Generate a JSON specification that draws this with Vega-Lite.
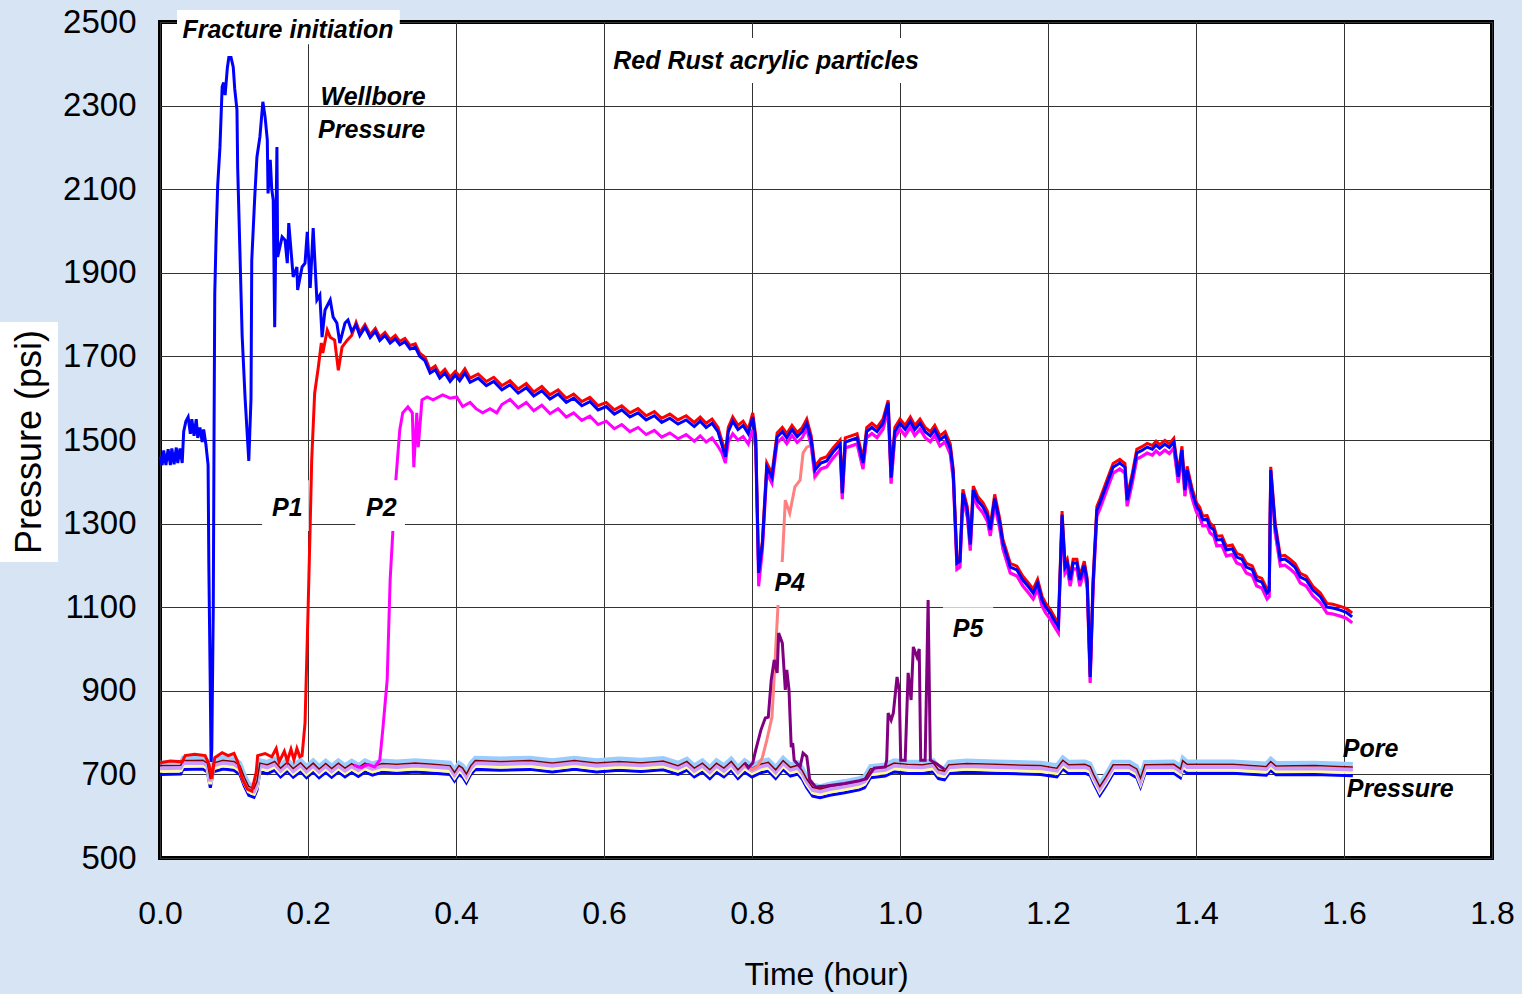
{
"$schema": "https://vega.github.io/schema/vega-lite/v6.json",
"width": 1332, "height": 836,
"autosize": {"type": "none"},
"padding": {"left": 160, "top": 22, "right": 30, "bottom": 136},
"background": "#d6e4f4",
"config": {"view": {"fill": "white", "stroke": "black", "strokeWidth": 4}, "font": "Liberation Sans", "axis": {"labelFont": "Liberation Sans", "titleFont": "Liberation Sans"}},
"datasets": {
"pore": [
{"t":0.000,"a":700,"b":709,"c":715,"d":721,"e":728},
{"t":0.028,"a":701,"b":710,"c":716,"d":722,"e":729},
{"t":0.031,"a":712,"b":721,"c":727,"d":733,"e":740},
{"t":0.058,"a":713,"b":722,"c":728,"d":734,"e":741},
{"t":0.064,"a":706,"b":715,"c":721,"d":727,"e":734},
{"t":0.068,"a":668,"b":677,"c":683,"d":689,"e":696},
{"t":0.072,"a":706,"b":715,"c":721,"d":727,"e":734},
{"t":0.085,"a":713,"b":722,"c":728,"d":734,"e":741},
{"t":0.100,"a":710,"b":719,"c":725,"d":731,"e":738},
{"t":0.108,"a":700,"b":709,"c":715,"d":721,"e":728},
{"t":0.114,"a":672,"b":681,"c":687,"d":693,"e":700},
{"t":0.120,"a":650,"b":659,"c":665,"d":671,"e":678},
{"t":0.127,"a":645,"b":654,"c":660,"d":666,"e":673},
{"t":0.131,"a":662,"b":671,"c":677,"d":683,"e":690},
{"t":0.135,"a":706,"b":715,"c":721,"d":727,"e":734},
{"t":0.145,"a":702,"b":711,"c":717,"d":723,"e":730},
{"t":0.155,"a":710,"b":719,"c":725,"d":731,"e":738},
{"t":0.163,"a":694,"b":703,"c":709,"d":715,"e":722},
{"t":0.172,"a":708,"b":717,"c":723,"d":729,"e":736},
{"t":0.180,"a":693,"b":702,"c":708,"d":714,"e":721},
{"t":0.190,"a":707,"b":716,"c":722,"d":728,"e":735},
{"t":0.198,"a":692,"b":701,"c":707,"d":713,"e":720},
{"t":0.207,"a":706,"b":715,"c":721,"d":727,"e":734},
{"t":0.215,"a":692,"b":701,"c":707,"d":713,"e":720},
{"t":0.224,"a":705,"b":714,"c":720,"d":726,"e":733},
{"t":0.232,"a":693,"b":702,"c":708,"d":714,"e":721},
{"t":0.241,"a":706,"b":715,"c":721,"d":727,"e":734},
{"t":0.250,"a":694,"b":703,"c":709,"d":715,"e":722},
{"t":0.259,"a":705,"b":714,"c":720,"d":726,"e":733},
{"t":0.268,"a":695,"b":704,"c":710,"d":716,"e":723},
{"t":0.277,"a":706,"b":715,"c":721,"d":727,"e":734},
{"t":0.287,"a":698,"b":707,"c":713,"d":719,"e":726},
{"t":0.300,"a":705,"b":714,"c":720,"d":726,"e":733},
{"t":0.320,"a":703,"b":712,"c":718,"d":724,"e":731},
{"t":0.345,"a":706,"b":715,"c":721,"d":727,"e":734},
{"t":0.370,"a":703,"b":712,"c":718,"d":724,"e":731},
{"t":0.392,"a":700,"b":709,"c":715,"d":721,"e":728},
{"t":0.398,"a":684,"b":693,"c":699,"d":705,"e":712},
{"t":0.404,"a":700,"b":709,"c":715,"d":721,"e":728},
{"t":0.409,"a":694,"b":703,"c":709,"d":715,"e":722},
{"t":0.414,"a":680,"b":689,"c":695,"d":701,"e":708},
{"t":0.420,"a":700,"b":709,"c":715,"d":721,"e":728},
{"t":0.426,"a":712,"b":721,"c":727,"d":733,"e":740},
{"t":0.460,"a":710,"b":719,"c":725,"d":731,"e":738},
{"t":0.500,"a":712,"b":721,"c":727,"d":733,"e":740},
{"t":0.530,"a":706,"b":715,"c":721,"d":727,"e":734},
{"t":0.560,"a":712,"b":721,"c":727,"d":733,"e":740},
{"t":0.590,"a":706,"b":715,"c":721,"d":727,"e":734},
{"t":0.620,"a":710,"b":719,"c":725,"d":731,"e":738},
{"t":0.650,"a":707,"b":716,"c":722,"d":728,"e":735},
{"t":0.680,"a":711,"b":720,"c":726,"d":732,"e":739},
{"t":0.700,"a":700,"b":709,"c":715,"d":721,"e":728},
{"t":0.712,"a":710,"b":719,"c":725,"d":731,"e":738},
{"t":0.722,"a":694,"b":703,"c":709,"d":715,"e":722},
{"t":0.733,"a":706,"b":715,"c":721,"d":727,"e":734},
{"t":0.743,"a":690,"b":699,"c":705,"d":711,"e":718},
{"t":0.752,"a":706,"b":715,"c":721,"d":727,"e":734},
{"t":0.762,"a":694,"b":703,"c":709,"d":715,"e":722},
{"t":0.772,"a":710,"b":719,"c":725,"d":731,"e":738},
{"t":0.781,"a":690,"b":699,"c":705,"d":711,"e":718},
{"t":0.790,"a":706,"b":715,"c":721,"d":727,"e":734},
{"t":0.800,"a":694,"b":703,"c":709,"d":715,"e":722},
{"t":0.812,"a":704,"b":713,"c":719,"d":725,"e":732},
{"t":0.822,"a":708,"b":717,"c":723,"d":729,"e":736},
{"t":0.832,"a":690,"b":699,"c":705,"d":711,"e":718},
{"t":0.842,"a":712,"b":721,"c":727,"d":733,"e":740},
{"t":0.852,"a":696,"b":705,"c":711,"d":717,"e":724},
{"t":0.862,"a":701,"b":710,"c":716,"d":722,"e":729},
{"t":0.868,"a":688,"b":697,"c":703,"d":709,"e":716},
{"t":0.874,"a":668,"b":677,"c":683,"d":689,"e":696},
{"t":0.882,"a":648,"b":657,"c":663,"d":669,"e":676},
{"t":0.892,"a":644,"b":653,"c":659,"d":665,"e":672},
{"t":0.905,"a":650,"b":659,"c":665,"d":671,"e":678},
{"t":0.925,"a":656,"b":665,"c":671,"d":677,"e":684},
{"t":0.945,"a":663,"b":672,"c":678,"d":684,"e":691},
{"t":0.952,"a":668,"b":677,"c":683,"d":689,"e":696},
{"t":0.960,"a":692,"b":701,"c":707,"d":713,"e":720},
{"t":0.980,"a":696,"b":705,"c":711,"d":717,"e":724},
{"t":0.992,"a":706,"b":715,"c":721,"d":727,"e":734},
{"t":1.010,"a":703,"b":712,"c":718,"d":724,"e":731},
{"t":1.030,"a":702,"b":711,"c":717,"d":723,"e":730},
{"t":1.045,"a":706,"b":715,"c":721,"d":727,"e":734},
{"t":1.052,"a":690,"b":699,"c":705,"d":711,"e":718},
{"t":1.060,"a":687,"b":696,"c":702,"d":708,"e":715},
{"t":1.066,"a":702,"b":711,"c":717,"d":723,"e":730},
{"t":1.090,"a":705,"b":714,"c":720,"d":726,"e":733},
{"t":1.130,"a":703,"b":712,"c":718,"d":724,"e":731},
{"t":1.190,"a":700,"b":709,"c":715,"d":721,"e":728},
{"t":1.212,"a":694,"b":703,"c":709,"d":715,"e":722},
{"t":1.220,"a":713,"b":722,"c":728,"d":734,"e":741},
{"t":1.228,"a":702,"b":711,"c":717,"d":723,"e":730},
{"t":1.250,"a":703,"b":712,"c":718,"d":724,"e":731},
{"t":1.257,"a":698,"b":707,"c":713,"d":719,"e":726},
{"t":1.262,"a":678,"b":687,"c":693,"d":699,"e":706},
{"t":1.270,"a":650,"b":659,"c":665,"d":671,"e":678},
{"t":1.278,"a":672,"b":681,"c":687,"d":693,"e":700},
{"t":1.288,"a":702,"b":711,"c":717,"d":723,"e":730},
{"t":1.310,"a":702,"b":711,"c":717,"d":723,"e":730},
{"t":1.320,"a":692,"b":701,"c":707,"d":713,"e":720},
{"t":1.325,"a":670,"b":679,"c":685,"d":691,"e":698},
{"t":1.331,"a":702,"b":711,"c":717,"d":723,"e":730},
{"t":1.370,"a":703,"b":712,"c":718,"d":724,"e":731},
{"t":1.379,"a":692,"b":701,"c":707,"d":713,"e":720},
{"t":1.382,"a":712,"b":721,"c":727,"d":733,"e":740},
{"t":1.388,"a":703,"b":712,"c":718,"d":724,"e":731},
{"t":1.450,"a":703,"b":712,"c":718,"d":724,"e":731},
{"t":1.495,"a":698,"b":707,"c":713,"d":719,"e":726},
{"t":1.501,"a":710,"b":719,"c":725,"d":731,"e":738},
{"t":1.508,"a":699,"b":708,"c":714,"d":720,"e":727},
{"t":1.560,"a":700,"b":709,"c":715,"d":721,"e":728},
{"t":1.612,"a":697,"b":706,"c":712,"d":718,"e":725}
],
"main": [
{"t":0,"w":1460,"r":728},{"t":0.003,"w":1440},{"t":0.005,"w":1475},{"t":0.008,"w":1440},{"t":0.011,"w":1478},
{"t":0.014,"w":1440,"r":732},{"t":0.016,"w":1480},{"t":0.019,"w":1442},{"t":0.022,"w":1482},{"t":0.024,"w":1445},
{"t":0.027,"w":1480},{"t":0.030,"w":1445,"r":730},{"t":0.032,"w":1520},{"t":0.034,"r":745},{"t":0.035,"w":1545},
{"t":0.038,"w":1555},{"t":0.041,"w":1515},{"t":0.043,"w":1550},{"t":0.046,"w":1510},{"t":0.047,"r":748},
{"t":0.049,"w":1550},{"t":0.051,"w":1505},{"t":0.054,"w":1530},{"t":0.057,"w":1495},{"t":0.059,"w":1525},
{"t":0.061,"r":745},{"t":0.062,"w":1490},{"t":0.065,"w":1440},{"t":0.066,"w":1200,"r":725},{"t":0.068,"w":900},
{"t":0.069,"w":730},{"t":0.070,"w":760,"r":690},{"t":0.072,"w":1100},{"t":0.073,"w":1500},{"t":0.074,"w":1850,"r":740},
{"t":0.076,"w":2000},{"t":0.078,"w":2110},{"t":0.081,"w":2200},{"t":0.084,"w":2345,"r":752},{"t":0.086,"w":2355},
{"t":0.088,"w":2325},{"t":0.091,"w":2390},{"t":0.092,"r":745},{"t":0.093,"w":2415},{"t":0.096,"w":2415},
{"t":0.099,"w":2392},{"t":0.100,"r":750},{"t":0.101,"w":2340},{"t":0.104,"w":2290},{"t":0.105,"w":2150,"r":730},
{"t":0.108,"w":1950},{"t":0.111,"w":1750,"r":690},{"t":0.115,"w":1600},{"t":0.118,"r":665},{"t":0.120,"w":1450},
{"t":0.123,"w":1600},{"t":0.124,"w":1930,"r":660},{"t":0.128,"w":2080},{"t":0.130,"r":705},{"t":0.131,"w":2177},
{"t":0.132,"r":745},{"t":0.135,"w":2225},{"t":0.139,"w":2309},{"t":0.142,"w":2273,"r":750},{"t":0.145,"w":2218},
{"t":0.146,"w":2090},{"t":0.149,"w":2170},{"t":0.151,"w":2100,"r":742},{"t":0.153,"w":2074},{"t":0.155,"w":1770},
{"t":0.157,"r":762},{"t":0.158,"w":2201},{"t":0.159,"w":1938},{"t":0.161,"r":730},{"t":0.165,"w":1986},
{"t":0.168,"r":755},{"t":0.169,"w":1978},{"t":0.172,"w":1923,"r":732},{"t":0.174,"w":2019},{"t":0.177,"r":760},
{"t":0.180,"w":1890},{"t":0.181,"r":735},{"t":0.185,"w":1914,"r":762},{"t":0.186,"w":1859},{"t":0.189,"r":742},
{"t":0.192,"w":1914,"r":745},{"t":0.196,"w":1923,"r":823},{"t":0.199,"w":1998},{"t":0.200,"r":1086},{"t":0.203,"w":1864,"r":1300},
{"t":0.205,"r":1452},{"t":0.207,"w":2007},{"t":0.209,"r":1612},{"t":0.212,"w":1835},{"t":0.214,"r":1675},
{"t":0.216,"w":1847},{"t":0.218,"r":1732},{"t":0.219,"w":1746},{"t":0.220,"r":1708},{"t":0.223,"w":1811},
{"t":0.226,"r":1763},{"t":0.230,"w":1835,"r":1746},{"t":0.234,"w":1794},{"t":0.236,"r":1739},{"t":0.239,"w":1780},
{"t":0.241,"r":1667},{"t":0.243,"w":1732},{"t":0.246,"r":1722},{"t":0.250,"w":1780},{"t":0.253,"r":1739},
{"t":0.254,"w":1787},{"t":0.259,"w":1760,"r":1750},{"t":0.262,"m":722},{"t":0.265,"w":1775,"r":1781},{"t":0.270,"w":1750,"r":1757},
{"t":0.272,"m":716},{"t":0.277,"w":1770,"r":1776},{"t":0.281,"m":724},{"t":0.284,"w":1745,"r":1752},{"t":0.290,"m":718},
{"t":0.291,"w":1760,"r":1767},{"t":0.297,"w":1738,"r":1746,"m":734},{"t":0.301,"m":806},{"t":0.304,"w":1750,"r":1757},
{"t":0.307,"m":926},{"t":0.311,"w":1732,"r":1740,"m":1165},{"t":0.318,"w":1742,"r":1750,"m":1388},{"t":0.324,"w":1728,"r":1736,"m":1524},
{"t":0.328,"m":1565},{"t":0.331,"w":1735,"r":1743},{"t":0.335,"m":1579},{"t":0.338,"w":1718,"r":1726},{"t":0.341,"m":1565},
{"t":0.343,"m":1435},{"t":0.345,"w":1722,"r":1730},{"t":0.347,"m":1565},{"t":0.349,"m":1483},{"t":0.351,"w":1700,"r":1708},
{"t":0.354,"m":1596},{"t":0.358,"w":1690,"r":1698},{"t":0.361,"m":1603},{"t":0.365,"w":1660,"r":1668},{"t":0.369,"m":1596},
{"t":0.372,"w":1668,"r":1677},{"t":0.378,"w":1648,"r":1657},{"t":0.382,"m":1608},{"t":0.385,"w":1660,"r":1669},
{"t":0.392,"w":1640,"r":1650,"m":1600},{"t":0.399,"w":1655,"r":1664},{"t":0.401,"m":1603},{"t":0.405,"w":1642,"r":1652},
{"t":0.409,"m":1580},{"t":0.412,"w":1660,"r":1670},{"t":0.419,"w":1638,"r":1648,"m":1590},{"t":0.427,"m":1575},
{"t":0.430,"w":1648,"r":1658},{"t":0.436,"m":1565},{"t":0.441,"w":1630,"r":1640},{"t":0.446,"m":1575},{"t":0.451,"w":1640,"r":1650},
{"t":0.455,"m":1565},
{"t":0.462,"w":1620,"r":1630,"m":1585},{"t":0.473,"w":1632,"r":1642,"m":1597},{"t":0.484,"w":1612,"r":1622,"m":1577},
{"t":0.495,"w":1625,"r":1635,"m":1590},{"t":0.505,"w":1605,"r":1615,"m":1570},{"t":0.516,"w":1618,"r":1628,"m":1583},
{"t":0.527,"w":1598,"r":1608,"m":1563},{"t":0.538,"w":1610,"r":1620,"m":1575},{"t":0.549,"w":1590,"r":1600,"m":1555},
{"t":0.559,"w":1600,"r":1610,"m":1565},{"t":0.570,"w":1582,"r":1592,"m":1547},{"t":0.581,"w":1592,"r":1602,"m":1557},
{"t":0.592,"w":1572,"r":1582,"m":1537},{"t":0.603,"w":1580,"r":1590,"m":1545},{"t":0.614,"w":1562,"r":1572,"m":1527},
{"t":0.624,"w":1572,"r":1582,"m":1537},{"t":0.635,"w":1555,"r":1565,"m":1520},{"t":0.646,"w":1565,"r":1575,"m":1530},
{"t":0.657,"w":1548,"r":1558,"m":1513},{"t":0.668,"w":1558,"r":1568,"m":1523},{"t":0.678,"w":1542,"r":1552,"m":1507},
{"t":0.689,"w":1552,"r":1562,"m":1517},{"t":0.700,"w":1538,"r":1548,"m":1503},{"t":0.711,"w":1548,"r":1558,"m":1513},
{"t":0.722,"w":1532,"r":1542,"m":1497},{"t":0.730,"w":1545,"r":1555,"m":1510},{"t":0.738,"w":1530,"r":1540,"m":1495},
{"t":0.746,"w":1540,"r":1550,"m":1505},{"t":0.754,"w":1520,"r":1530,"m":1485},{"t":0.759,"w":1490,"r":1500,"m":1470},
{"t":0.764,"w":1460,"r":1470,"m":1445},{"t":0.768,"w":1520,"r":1530,"m":1495},{"t":0.774,"w":1545,"r":1555,"m":1515},
{"t":0.781,"w":1525,"r":1535,"m":1500},{"t":0.788,"w":1535,"r":1545,"m":1508},{"t":0.790,"s":722},
{"t":0.795,"w":1515,"r":1525,"m":1490},{"t":0.800,"s":712},{"t":0.801,"w":1555,"r":1565,"m":1525},
{"t":0.805,"w":1500,"r":1510,"m":1480},{"t":0.807,"s":718},{"t":0.809,"w":1182,"r":1190,"m":1150},
{"t":0.814,"w":1250,"r":1258,"m":1235,"s":740},{"t":0.820,"w":1435,"r":1445,"m":1421,"s":782},
{"t":0.827,"w":1410,"r":1420,"m":1396,"s":837},{"t":0.831,"s":966},{"t":0.834,"w":1507,"r":1517,"m":1493},
{"t":0.835,"s":1100},{"t":0.838,"s":1160},{"t":0.841,"w":1520,"r":1530,"m":1506,"s":1213},{"t":0.845,"s":1356},
{"t":0.847,"w":1505,"r":1515,"m":1491},{"t":0.851,"s":1325},{"t":0.854,"w":1525,"r":1535,"m":1511},{"t":0.858,"s":1388},
{"t":0.861,"w":1508,"r":1518,"m":1494},{"t":0.865,"s":1404},{"t":0.868,"w":1520,"r":1530,"m":1506},{"t":0.869,"s":1469},
{"t":0.874,"w":1540,"r":1550,"m":1526,"s":1483},{"t":0.880,"w":1500,"r":1510,"m":1486,"s":1487},
{"t":0.885,"w":1428,"r":1438,"m":1414,"s":1410},
{"t":0.893,"w":1445,"r":1455,"m":1431,"s":1430},{"t":0.901,"w":1450,"r":1460,"m":1436,"s":1435},
{"t":0.909,"w":1470,"r":1480,"m":1456,"s":1455},{"t":0.919,"w":1490,"r":1500,"m":1476,"s":1475},
{"t":0.922,"w":1373,"r":1383,"m":1359,"s":1358},{"t":0.926,"w":1495,"r":1505,"m":1481,"s":1480},
{"t":0.934,"w":1500,"r":1510,"m":1486,"s":1485},{"t":0.942,"w":1505,"r":1515,"m":1491,"s":1490},
{"t":0.950,"w":1445,"r":1455,"m":1431,"s":1430},{"t":0.955,"w":1520,"r":1530,"m":1506,"s":1505},
{"t":0.962,"w":1530,"r":1540,"m":1516,"s":1515},{"t":0.969,"w":1520,"r":1530,"m":1506,"s":1505},
{"t":0.977,"w":1540,"r":1550,"m":1526,"s":1525},{"t":0.984,"w":1589,"r":1595,"m":1575,"s":1570},
{"t":0.988,"w":1410,"r":1420,"m":1396,"s":1395},{"t":0.993,"w":1520,"r":1530,"m":1506,"s":1505},
{"t":1.000,"w":1540,"r":1550,"m":1526,"s":1525},{"t":1.007,"w":1525,"r":1535,"m":1511,"s":1510},
{"t":1.014,"w":1545,"r":1555,"m":1531,"s":1530},{"t":1.020,"w":1525,"r":1535,"m":1511,"s":1510},
{"t":1.027,"w":1540,"r":1550,"m":1526,"s":1525},{"t":1.034,"w":1520,"r":1530,"m":1506,"s":1505},
{"t":1.041,"w":1510,"r":1520,"m":1496,"s":1495},{"t":1.047,"w":1525,"r":1535,"m":1511,"s":1510},
{"t":1.054,"w":1500,"r":1510,"m":1486,"s":1485},{"t":1.061,"w":1510,"r":1520,"m":1496,"s":1495},
{"t":1.068,"w":1480,"r":1490,"m":1466,"s":1465},{"t":1.072,"w":1420,"r":1430,"m":1406,"s":1405},
{"t":1.077,"w":1205,"r":1212,"m":1191,"s":1190},{"t":1.081,"w":1210,"r":1218,"m":1196,"s":1195},
{"t":1.085,"w":1373,"r":1382,"m":1359,"s":1358},{"t":1.091,"w":1330,"r":1340,"m":1316,"s":1315},
{"t":1.095,"w":1250,"r":1258,"m":1236,"s":1235},{"t":1.099,"w":1380,"r":1390,"m":1366,"s":1365},
{"t":1.105,"w":1355,"r":1365,"m":1341,"s":1340},{"t":1.112,"w":1340,"r":1350,"m":1326,"s":1325},
{"t":1.118,"w":1320,"r":1330,"m":1306,"s":1305},{"t":1.122,"w":1285,"r":1294,"m":1271,"s":1270},
{"t":1.128,"w":1360,"r":1370,"m":1346,"s":1345},{"t":1.135,"w":1300,"r":1310,"m":1286,"s":1285},
{"t":1.139,"w":1254,"r":1263,"m":1240,"s":1239},{"t":1.149,"w":1196,"r":1205,"m":1182,"s":1181},
{"t":1.158,"w":1189,"r":1198,"m":1175,"s":1174},{"t":1.166,"w":1165,"r":1174,"m":1151,"s":1150},
{"t":1.173,"w":1150,"r":1159,"m":1136,"s":1135},{"t":1.180,"w":1134,"r":1143,"m":1120,"s":1119},
{"t":1.186,"w":1158,"r":1167,"m":1144,"s":1143},{"t":1.192,"w":1117,"r":1126,"m":1103,"s":1102},
{"t":1.197,"w":1100,"r":1109,"m":1086,"s":1085},{"t":1.203,"w":1086,"r":1095,"m":1072,"s":1071},
{"t":1.208,"w":1070,"r":1079,"m":1056,"s":1055},{"t":1.214,"w":1053,"r":1062,"m":1039,"s":1038},
{"t":1.219,"w":1321,"r":1330,"m":1307,"s":1306},{"t":1.223,"w":1196,"r":1205,"m":1182,"s":1181},
{"t":1.226,"w":1206,"r":1215,"m":1192,"s":1191},{"t":1.230,"w":1165,"r":1174,"m":1151,"s":1150},
{"t":1.234,"w":1206,"r":1215,"m":1192,"s":1191},{"t":1.239,"w":1206,"r":1215,"m":1192,"s":1191},
{"t":1.243,"w":1165,"r":1174,"m":1151,"s":1150},{"t":1.249,"w":1201,"r":1210,"m":1187,"s":1186},
{"t":1.253,"w":1160,"r":1169,"m":1146,"s":1145},{"t":1.257,"w":933,"r":940,"m":919,"s":920},
{"t":1.261,"w":1160,"r":1169,"m":1146,"s":1145},{"t":1.266,"w":1332,"r":1341,"m":1318,"s":1317},
{"t":1.270,"w":1349,"r":1358,"m":1335,"s":1334},{"t":1.280,"w":1397,"r":1406,"m":1383,"s":1382},
{"t":1.288,"w":1435,"r":1444,"m":1421,"s":1420},{"t":1.297,"w":1445,"r":1454,"m":1431,"s":1430},
{"t":1.304,"w":1435,"r":1444,"m":1421,"s":1420},{"t":1.307,"w":1356,"r":1365,"m":1342,"s":1341},
{"t":1.314,"w":1412,"r":1421,"m":1398,"s":1397},{"t":1.320,"w":1469,"r":1478,"m":1455,"s":1454},
{"t":1.327,"w":1475,"r":1484,"m":1461,"s":1460},{"t":1.334,"w":1483,"r":1492,"m":1469,"s":1468},
{"t":1.341,"w":1478,"r":1487,"m":1464,"s":1463},{"t":1.346,"w":1488,"r":1497,"m":1474,"s":1473},
{"t":1.351,"w":1480,"r":1489,"m":1466,"s":1465},{"t":1.358,"w":1490,"r":1499,"m":1476,"s":1475},
{"t":1.364,"w":1482,"r":1491,"m":1468,"s":1467},{"t":1.370,"w":1495,"r":1504,"m":1481,"s":1480},
{"t":1.376,"w":1412,"r":1421,"m":1398,"s":1397},{"t":1.381,"w":1476,"r":1485,"m":1462,"s":1461},
{"t":1.385,"w":1380,"r":1389,"m":1366,"s":1365},{"t":1.388,"w":1428,"r":1437,"m":1414,"s":1413},
{"t":1.395,"w":1373,"r":1382,"m":1359,"s":1358},{"t":1.401,"w":1340,"r":1349,"m":1326,"s":1325},
{"t":1.405,"w":1330,"r":1339,"m":1316,"s":1315},{"t":1.409,"w":1309,"r":1318,"m":1295,"s":1294},
{"t":1.415,"w":1310,"r":1319,"m":1296,"s":1295},{"t":1.419,"w":1292,"r":1301,"m":1278,"s":1277},
{"t":1.424,"w":1285,"r":1294,"m":1271,"s":1270},{"t":1.428,"w":1261,"r":1270,"m":1247,"s":1246},
{"t":1.435,"w":1262,"r":1271,"m":1248,"s":1247},{"t":1.441,"w":1237,"r":1246,"m":1223,"s":1222},
{"t":1.449,"w":1240,"r":1249,"m":1226,"s":1225},{"t":1.455,"w":1220,"r":1229,"m":1206,"s":1205},
{"t":1.462,"w":1215,"r":1224,"m":1201,"s":1200},{"t":1.468,"w":1196,"r":1205,"m":1182,"s":1181},
{"t":1.476,"w":1190,"r":1199,"m":1176,"s":1175},{"t":1.482,"w":1165,"r":1174,"m":1151,"s":1150},
{"t":1.489,"w":1160,"r":1169,"m":1146,"s":1145},{"t":1.496,"w":1134,"r":1143,"m":1120,"s":1119},
{"t":1.499,"w":1140,"r":1149,"m":1126,"s":1125},{"t":1.501,"w":1428,"r":1436,"m":1414,"s":1413},
{"t":1.507,"w":1292,"r":1301,"m":1278,"s":1277},{"t":1.514,"w":1213,"r":1222,"m":1199,"s":1198},
{"t":1.520,"w":1215,"r":1224,"m":1201,"s":1200},{"t":1.527,"w":1206,"r":1215,"m":1192,"s":1191},
{"t":1.534,"w":1195,"r":1204,"m":1181,"s":1180},{"t":1.541,"w":1172,"r":1181,"m":1158,"s":1157},
{"t":1.549,"w":1165,"r":1174,"m":1151,"s":1150},{"t":1.558,"w":1141,"r":1150,"m":1127,"s":1126},
{"t":1.568,"w":1125,"r":1134,"m":1111,"s":1110},{"t":1.577,"w":1100,"r":1109,"m":1086,"s":1085},
{"t":1.585,"w":1098,"r":1107,"m":1084,"s":1083},{"t":1.595,"w":1093,"r":1102,"m":1079,"s":1078},
{"t":1.603,"w":1088,"r":1097,"m":1074,"s":1073},{"t":1.611,"w":1077,"r":1086,"m":1063,"s":1062}
],
"p5": [
{"t":0.790,"p":728},{"t":0.795,"p":716},{"t":0.801,"p":727},{"t":0.805,"p":758},{"t":0.812,"p":806},
{"t":0.818,"p":835},{"t":0.822,"p":837},{"t":0.826,"p":926},{"t":0.830,"p":974},{"t":0.834,"p":943},
{"t":0.836,"p":1038},{"t":0.841,"p":1014},{"t":0.845,"p":902},{"t":0.847,"p":950},{"t":0.850,"p":902},
{"t":0.853,"p":765},{"t":0.855,"p":775},{"t":0.857,"p":734},{"t":0.865,"p":718},{"t":0.869,"p":751},
{"t":0.874,"p":743},{"t":0.878,"p":687},{"t":0.886,"p":670},{"t":0.900,"p":672},{"t":0.925,"p":678},
{"t":0.945,"p":685},{"t":0.955,"p":690},{"t":0.965,"p":715},{"t":0.980,"p":718},{"t":0.982,"p":734},
{"t":0.984,"p":847},{"t":0.988,"p":830},{"t":0.991,"p":847},{"t":0.996,"p":933},{"t":0.999,"p":902},
{"t":1.001,"p":734},{"t":1.007,"p":734},{"t":1.011,"p":943},{"t":1.015,"p":878},{"t":1.018,"p":1005},
{"t":1.023,"p":981},{"t":1.026,"p":1000},{"t":1.028,"p":734},{"t":1.034,"p":734},{"t":1.038,"p":1117},
{"t":1.041,"p":734},{"t":1.050,"p":725},{"t":1.060,"p":712}
],
"boxes": [
{"t":0.023,"t2":0.324,"p":2529,"p2":2447},
{"t":0.611,"t2":1.027,"p":2462,"p2":2354},
{"t":0.138,"t2":0.201,"p":1404,"p2":1282},
{"t":0.264,"t2":0.331,"p":1404,"p2":1282},
{"t":0.819,"t2":0.884,"p":1208,"p2":1105},
{"t":1.058,"t2":1.126,"p":1100,"p2":998},
{"t":-0.2162,"t2":-0.1378,"p":1782,"p2":1208}
],
"notes": [
{"t":0.173,"p":2481,"text":"Fracture initiation"},
{"t":0.288,"p":2321,"text":"Wellbore"},
{"t":0.286,"p":2242,"text":"Pressure"},
{"t":0.819,"p":2407,"text":"Red Rust acrylic particles"},
{"t":0.172,"p":1337,"text":"P1"},
{"t":0.299,"p":1337,"text":"P2"},
{"t":0.851,"p":1158,"text":"P4"},
{"t":1.092,"p":1048,"text":"P5"},
{"t":1.636,"p":761,"text":"Pore"},
{"t":1.676,"p":665,"text":"Pressure"}
]
},
"encoding": {
"x": {"field": "t", "type": "quantitative", "title": "Time (hour)",
 "scale": {"domain": [0, 1.8], "nice": false, "zero": false},
 "axis": {"values": [0,0.2,0.4,0.6,0.8,1.0,1.2,1.4,1.6,1.8], "format": ".1f", "labelFontSize": 32, "labelPadding": 40, "labelColor": "black", "labelFlush": false, "labelOverlap": false, "ticks": false, "domain": false, "grid": true, "gridColor": "#333333", "gridWidth": 1, "gridOpacity": 1, "titleFontSize": 32, "titleFontWeight": "normal", "titleColor": "black", "titlePadding": 30}},
"y": {"field": "p", "type": "quantitative", "title": null,
 "scale": {"domain": [500, 2500], "nice": false, "zero": false},
 "axis": {"values": [500,700,900,1100,1300,1500,1700,1900,2100,2300,2500], "format": "d", "labelFontSize": 33, "labelPadding": 24, "labelColor": "black", "labelOverlap": false, "labelFlush": false, "ticks": false, "domain": false, "grid": true, "gridColor": "#333333", "gridWidth": 1, "gridOpacity": 1}}
},
"layer": [
{"data": {"name": "pore"}, "transform": [{"fold": ["a"], "as": ["k", "p"]}], "mark": {"type": "line", "color": "#0000ff", "strokeWidth": 3}},
{"data": {"name": "pore"}, "transform": [{"fold": ["b"], "as": ["k", "p"]}], "mark": {"type": "line", "color": "#ffff99", "strokeWidth": 4}},
{"data": {"name": "pore"}, "transform": [{"fold": ["c"], "as": ["k", "p"]}], "mark": {"type": "line", "color": "#cc99ff", "strokeWidth": 4}},
{"data": {"name": "pore"}, "transform": [{"fold": ["e"], "as": ["k", "p"]}], "mark": {"type": "line", "color": "#99ccff", "strokeWidth": 4}},
{"data": {"name": "pore"}, "transform": [{"fold": ["d"], "as": ["k", "p"]}], "mark": {"type": "line", "color": "#800000", "strokeWidth": 1.5}},
{"data": {"name": "main"}, "transform": [{"fold": ["s"], "as": ["k", "p"]}, {"filter": "isValid(datum.p)"}], "mark": {"type": "line", "color": "#ff8080", "strokeWidth": 3}},
{"data": {"name": "main"}, "transform": [{"fold": ["m"], "as": ["k", "p"]}, {"filter": "isValid(datum.p)"}], "mark": {"type": "line", "color": "#ff00ff", "strokeWidth": 3}},
{"data": {"name": "main"}, "transform": [{"fold": ["r"], "as": ["k", "p"]}, {"filter": "isValid(datum.p)"}], "mark": {"type": "line", "color": "#ff0000", "strokeWidth": 3}},
{"data": {"name": "p5"}, "mark": {"type": "line", "color": "#800080", "strokeWidth": 3}},
{"data": {"name": "main"}, "transform": [{"fold": ["w"], "as": ["k", "p"]}, {"filter": "isValid(datum.p)"}], "mark": {"type": "line", "color": "#0000ff", "strokeWidth": 3}},
{"data": {"name": "boxes"}, "mark": {"type": "rect", "color": "white", "opacity": 1}, "encoding": {"x2": {"field": "t2"}, "y2": {"field": "p2"}}},
{"data": {"name": "notes"}, "mark": {"type": "text", "font": "Liberation Sans", "fontSize": 25, "fontStyle": "italic", "fontWeight": "bold", "color": "black", "align": "center", "baseline": "middle"}, "encoding": {"text": {"field": "text"}}},
{"data": {"values": [{"t": -0.176, "p": 1495, "text": "Pressure (psi)"}]}, "mark": {"type": "text", "font": "Liberation Sans", "fontSize": 36, "angle": 270, "color": "black", "align": "center", "baseline": "middle"}, "encoding": {"text": {"field": "text"}}}
]
}
